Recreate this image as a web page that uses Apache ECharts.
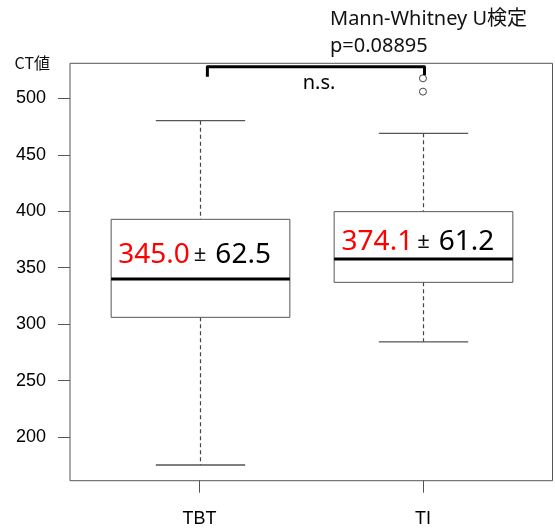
<!DOCTYPE html>
<html>
<head>
<meta charset="utf-8">
<script src="https://cdn.jsdelivr.net/npm/echarts@6/dist/echarts.min.js"></script>
<style>html,body{margin:0;padding:0;background:#fff}#c{width:555px;height:530px}</style>
</head>
<body>
<div id="c"></div>
<script>
// ---- data ----
var categories = ['TBT', 'TI'];
var positions = [1, 2];
var whiskerLow = [175.2, 284.2];
var quartile1 = [306.0, 337.0];
var medians = [340.0, 357.7];
var quartile3 = [392.8, 399.6];
var whiskerHigh = [480.2, 469.0];
var outlierGroup = [2, 2];
var outlierValues = [505.9, 517.7];
var meanText = ['345.0', '374.1'];
var sdText = ['62.5', '61.2'];
var meanLabelY = [361.0, 373.0];
var yTicks = [200, 250, 300, 350, 400, 450, 500];
var bracketX = [1.035, 1.035, 2.007, 2.007];
var bracketY = [519.1, 528.0, 528.0, 520.6];
var nsPos = [1.535, 513.3];
var testName = 'Mann-Whitney U検定';
var pValue = 'p=0.08895';

// ---- build ----
var boxData = positions.map(function (p, i) {
  return [p, whiskerLow[i], quartile1[i], medians[i], quartile3[i], whiskerHigh[i]];
});
var outlierData = outlierGroup.map(function (g, i) { return [g, outlierValues[i]]; });
var meanData = positions.map(function (p, i) { return [p, meanLabelY[i], meanText[i], sdText[i]]; });
var bracketData = bracketX.map(function (x, i) { return [x, bracketY[i]]; });

var chart = echarts.init(document.getElementById('c'), null, {renderer: 'canvas'});
var axisFont = 'Liberation Sans, Arial, sans-serif';
var textFont = 'Noto Sans, Noto Sans CJK JP, sans-serif';

chart.setOption({
  animation: false,
  backgroundColor: '#fff',
  title: {
    text: testName + '\n' + pValue,
    left: 330, top: 6, padding: 0,
    textStyle: {fontFamily: textFont, fontSize: 20, fontWeight: 'normal', color: '#111', lineHeight: 27}
  },
  grid: {left: 70, right: 2.5, top: 63.3, bottom: 49.3, show: true, borderColor: '#555', borderWidth: 1, backgroundColor: 'transparent'},
  xAxis: {
    type: 'value', min: 0.42, max: 2.58,
    axisLine: {show: false, onZero: false},
    splitLine: {show: false},
    axisTick: {show: true, customValues: positions, length: 12, lineStyle: {color: '#555', width: 1}},
    axisLabel: {customValues: positions, margin: 29, color: '#000', fontFamily: axisFont, fontSize: 18,
      formatter: function (v) { return categories[Math.round(v) - 1] || ''; }}
  },
  yAxis: {
    type: 'value', min: 161.3, max: 531.0,
    name: 'CT値', nameLocation: 'end', nameGap: 0,
    nameTextStyle: {fontFamily: 'Noto Sans CJK JP, sans-serif', fontSize: 16, color: '#111', align: 'right', verticalAlign: 'middle', padding: [0, 20, 0, 0]},
    axisLine: {show: false, onZero: false},
    splitLine: {show: false},
    axisTick: {show: true, customValues: yTicks, length: 12, lineStyle: {color: '#555', width: 1}},
    axisLabel: {customValues: yTicks, margin: 24, color: '#000', fontFamily: axisFont, fontSize: 18}
  },
  series: [
    {
      type: 'custom',
      data: boxData,
      z: 2,
      renderItem: function (params, api) {
        var x = api.value(0);
        var lo = api.coord([x, api.value(1)]);
        var q1 = api.coord([x, api.value(2)]);
        var md = api.coord([x, api.value(3)]);
        var q3 = api.coord([x, api.value(4)]);
        var hi = api.coord([x, api.value(5)]);
        var bw = api.size([0.8, 0])[0];
        var cw = api.size([0.4, 0])[0];
        var cx = Math.round(md[0]) + 0.5;
        var gray = '#444';
        return {
          type: 'group',
          children: [
            {type: 'line', shape: {x1: cx, y1: hi[1], x2: cx, y2: q3[1]}, style: {stroke: gray, lineWidth: 1.2, lineDash: [4, 3]}},
            {type: 'line', shape: {x1: cx, y1: q1[1], x2: cx, y2: lo[1]}, style: {stroke: gray, lineWidth: 1.2, lineDash: [4, 3]}},
            {type: 'line', shape: {x1: cx - cw / 2, y1: hi[1], x2: cx + cw / 2, y2: hi[1]}, style: {stroke: '#555', lineWidth: 1.3}},
            {type: 'line', shape: {x1: cx - cw / 2, y1: lo[1], x2: cx + cw / 2, y2: lo[1]}, style: {stroke: '#555', lineWidth: 1.3}},
            {type: 'rect', shape: {x: cx - bw / 2, y: q3[1], width: bw, height: q1[1] - q3[1]}, style: {fill: '#fff', stroke: '#555', lineWidth: 1}},
            {type: 'line', shape: {x1: cx - bw / 2, y1: md[1], x2: cx + bw / 2, y2: md[1]}, style: {stroke: '#000', lineWidth: 3}}
          ]
        };
      }
    },
    {
      type: 'scatter',
      data: outlierData,
      symbol: 'circle', symbolSize: 7,
      itemStyle: {color: '#fff', borderColor: '#444', borderWidth: 1, opacity: 1},
      z: 3
    },
    {
      type: 'line',
      data: bracketData,
      symbol: 'none',
      lineStyle: {color: '#000', width: 3, join: 'round'},
      z: 4
    },
    {
      type: 'scatter',
      data: [nsPos],
      symbolSize: 0,
      itemStyle: {opacity: 1},
      label: {show: true, position: 'inside', formatter: 'n.s.', fontFamily: textFont, fontSize: 20, color: '#000', textBorderWidth: 0, opacity: 1},
      z: 5
    },
    {
      type: 'scatter',
      data: meanData,
      symbolSize: 0,
      itemStyle: {opacity: 1},
      z: 6,
      label: {
        show: true, position: 'inside', offset: [-5, 0], color: '#000', textBorderWidth: 0, opacity: 1,
        formatter: function (p) { return '{r|' + p.value[2] + '}{pm|±}{k|' + p.value[3] + '}'; },
        rich: {
          r: {fontFamily: textFont, fontSize: 28, color: '#ff0000', textBorderWidth: 0},
          pm: {fontFamily: textFont, fontSize: 22, color: '#111', padding: [0, 9, 0, 4], textBorderWidth: 0},
          k: {fontFamily: textFont, fontSize: 28, color: '#000', textBorderWidth: 0}
        }
      }
    }
  ]
});
</script>
</body>
</html>
